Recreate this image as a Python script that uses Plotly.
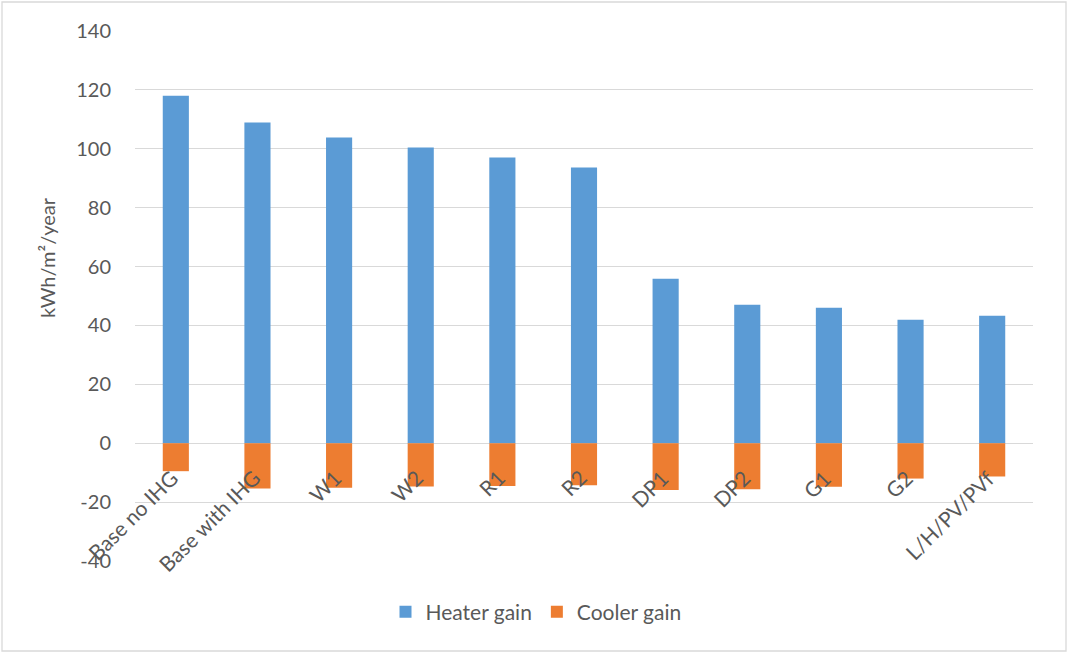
import plotly.graph_objects as go

categories = ["Base no IHG", "Base with IHG", "W1", "W2", "R1", "R2",
              "DP1", "DP2", "G1", "G2", "L/H/PV/PVf"]
heater_gain = [118.0, 108.9, 103.8, 100.4, 97.0, 93.6, 55.9, 47.0, 46.0, 41.9, 43.3]
cooler_gain = [-9.5, -15.4, -15.1, -14.7, -14.5, -14.3, -15.9, -15.6, -14.8, -12.0, -11.3]
y_ticks = [-40, -20, 0, 20, 40, 60, 80, 100, 120, 140]
y_tick_text = [str(v) for v in y_ticks]

W, H = 1068, 653
L, R, T, B = 135, 35, 31, 92
pw, ph = W - L - R, H - T - B

FONT = "Lato, Open Sans, sans-serif"
GREY = "#595959"

fig = go.Figure()
fig.add_trace(go.Bar(x=categories, y=heater_gain, name="Heater gain",
                     marker=dict(color="#5b9bd5", line=dict(width=0)), width=0.32))
fig.add_trace(go.Bar(x=categories, y=cooler_gain, name="Cooler gain",
                     marker=dict(color="#ed7d31", line=dict(width=0)), width=0.32))

annotations = []
for c in categories:
    annotations.append(dict(x=c, y=0, xref="x", yref="y", text=c, showarrow=False,
                            textangle=-45, xanchor="right", yanchor="top",
                            xshift=10, yshift=-19,
                            font=dict(family=FONT, size=21, color=GREY)))
# y-axis title
annotations.append(dict(x=(47 - L) / pw, y=(H - B - 258) / ph, xref="paper", yref="paper",
                        text="kWh/m²/year", showarrow=False, textangle=-90,
                        xanchor="center", yanchor="middle",
                        font=dict(family=FONT, size=20, color=GREY)))

fig.update_layout(
    width=W, height=H,
    margin=dict(l=L, r=R, t=T, b=B, autoexpand=False),
    paper_bgcolor="white", plot_bgcolor="white",
    barmode="relative",
    font=dict(family=FONT, size=19, color=GREY),
    showlegend=True,
    legend=dict(orientation="h", x=(536 - L) / pw, xanchor="center",
                y=-(612 - (H - B)) / ph, yanchor="middle",
                font=dict(family=FONT, size=21, color=GREY),
                itemsizing="constant", traceorder="normal"),
    xaxis=dict(showticklabels=False, showgrid=False, zeroline=False, showline=False,
               ticks="", range=[-0.5, len(categories) - 0.5], automargin=False,
               type="category"),
    yaxis=dict(range=[-40, 140], tickvals=y_ticks, ticktext=y_tick_text,
               showgrid=True, gridcolor="#d9d9d9",
               gridwidth=1.3, zeroline=True, zerolinecolor="#d9d9d9", zerolinewidth=1.3,
               showline=False, ticks="", ticklabelstandoff=23, automargin=False,
               tickfont=dict(family=FONT, size=20, color=GREY)),
    annotations=annotations,
    shapes=[dict(type="rect", xref="paper", yref="paper",
                 x0=(2 - L) / pw, x1=(W - 2 - L) / pw,
                 y0=(H - B - (H - 2)) / ph, y1=(H - B - 2) / ph,
                 line=dict(color="#d9d9d9", width=1.3), fillcolor="rgba(0,0,0,0)",
                 layer="below")],
)

fig.write_html("out.html", config={"displayModeBar": False},
               post_script="document.body.style.margin='0';document.body.style.overflow='hidden';")
